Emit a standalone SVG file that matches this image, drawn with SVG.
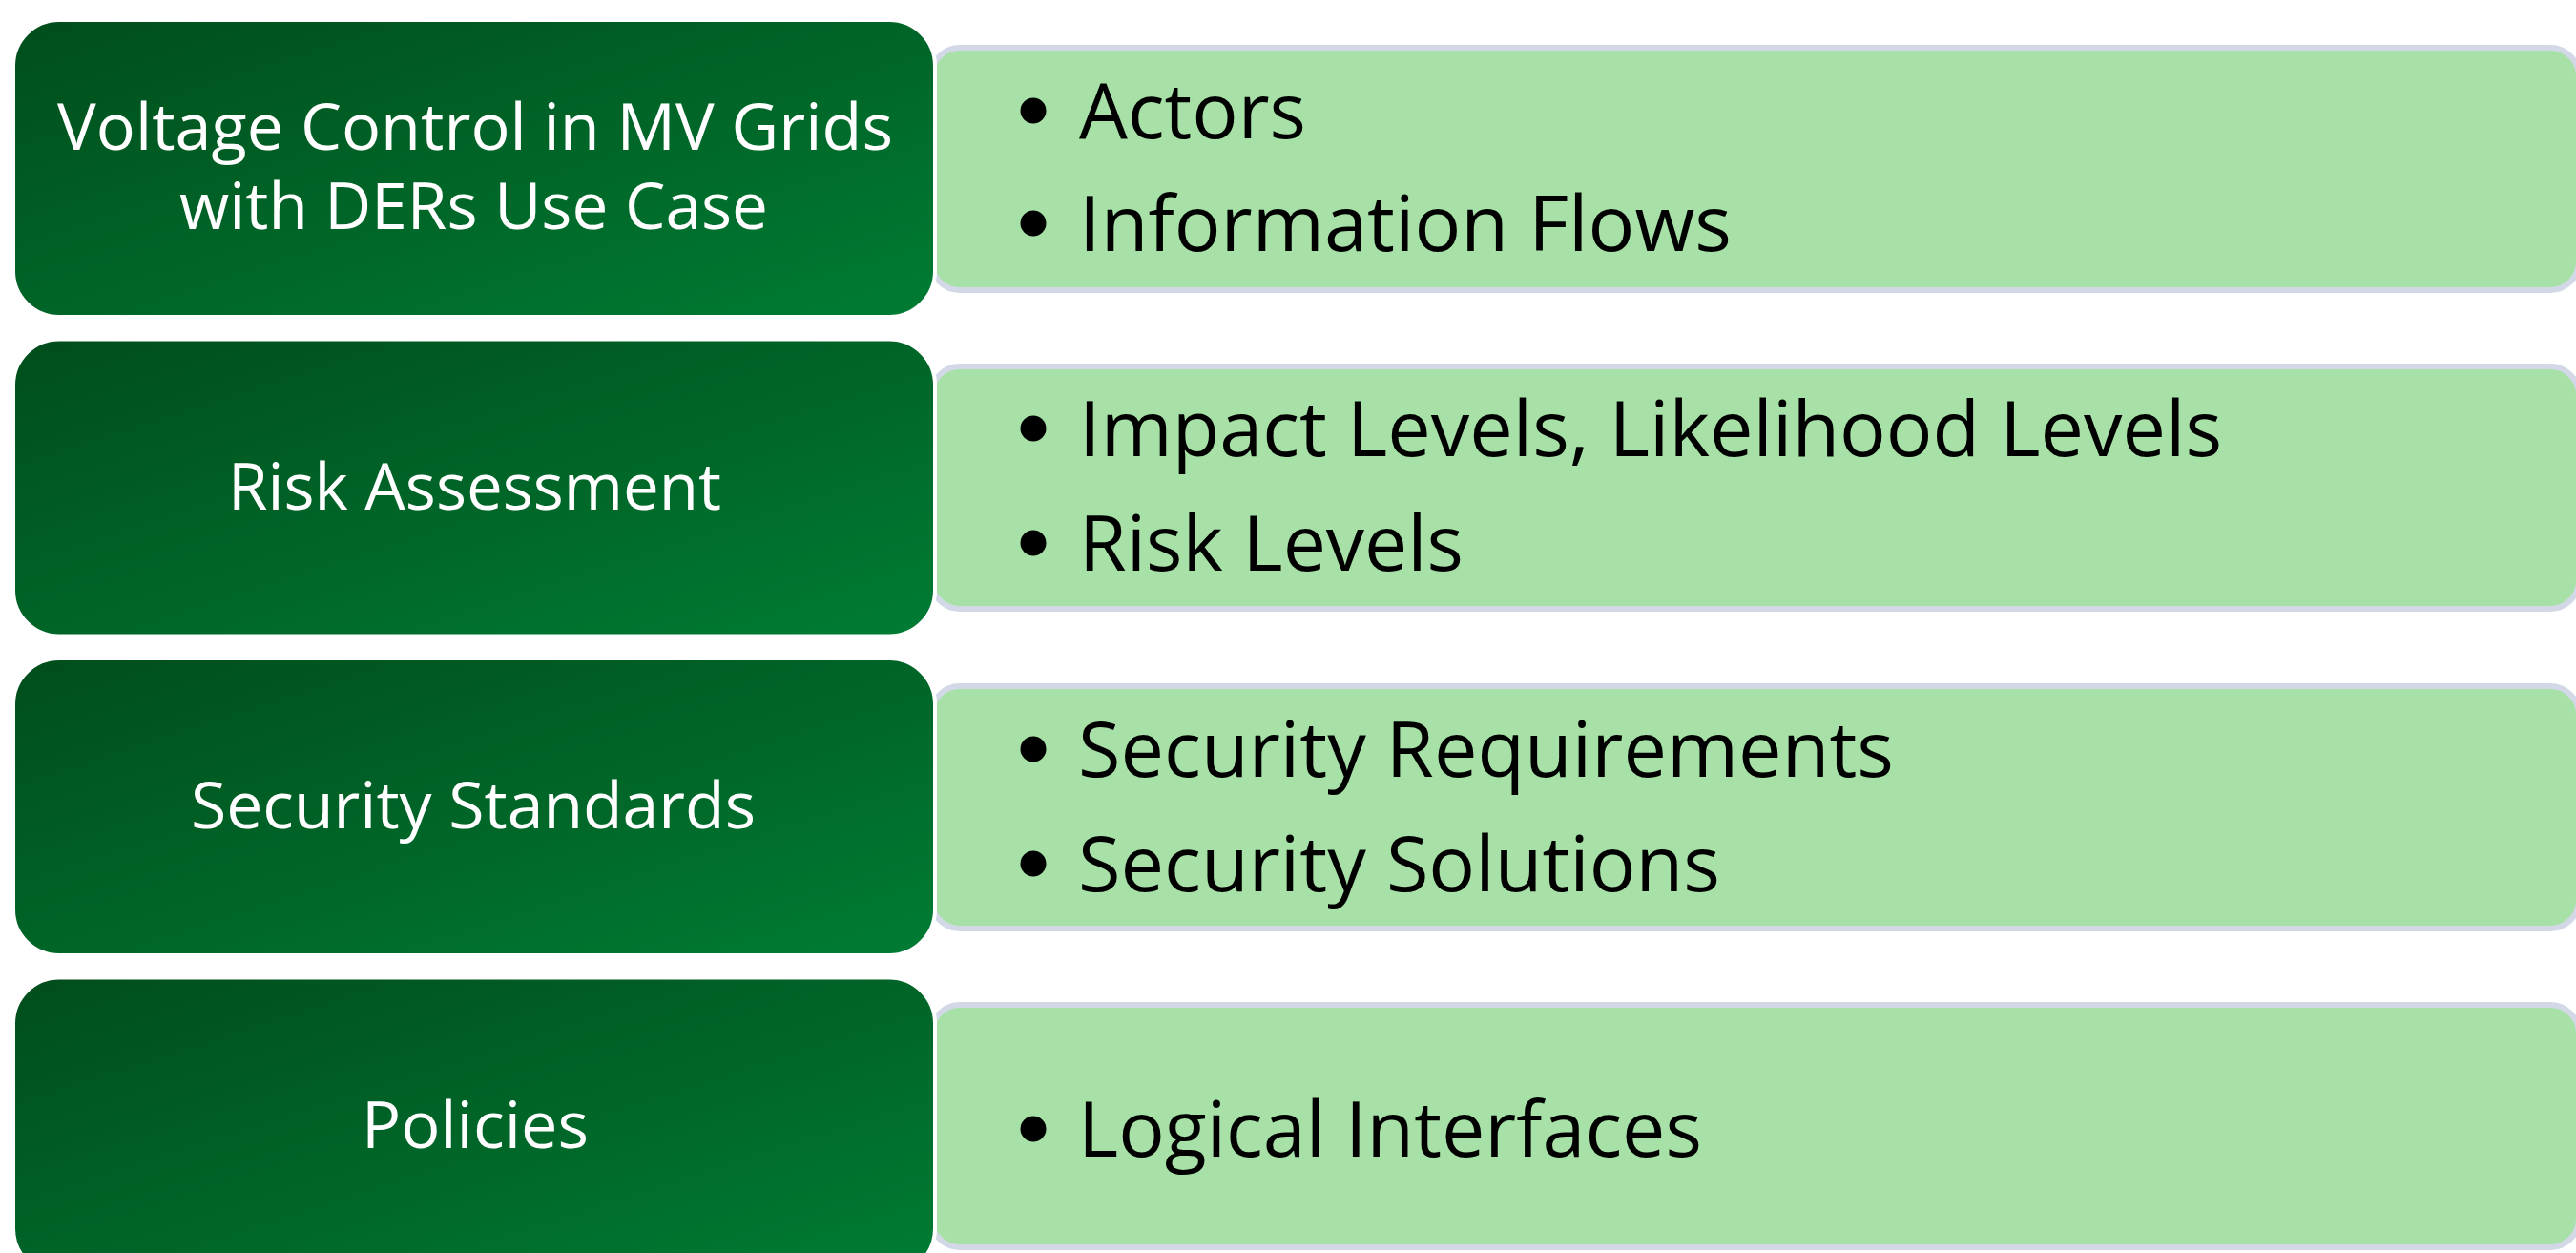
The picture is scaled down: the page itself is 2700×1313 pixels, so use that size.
<svg xmlns="http://www.w3.org/2000/svg" width="2700" height="1313" viewBox="0 0 2700 1313">
  <defs>
    <linearGradient id="stageFill" x1="0" y1="0" x2="1" y2="1">
      <stop offset="0" stop-color="#004d1b"/>
      <stop offset="1" stop-color="#007c34"/>
    </linearGradient>
    <style>
      .stage { fill: url(#stageFill); stroke: #ffffff; stroke-width: 4; }
      .detail { fill: #a7e1a7; stroke: #d2d8e6; stroke-width: 6; }
      .stage-label { font-family: "Open Sans", "Noto Sans", sans-serif; font-size: 67px; fill: #ffffff; }
      .item { font-family: "Open Sans", "Noto Sans", sans-serif; font-size: 81px; fill: #000000; }
      .dot { fill: #000000; }
    </style>
  </defs>
  <rect width="2700" height="1313" fill="#ffffff"/>

  <!-- Row 1: use case -->
  <g id="details-usecase">
    <rect class="detail" x="976" y="50" width="1727" height="254" rx="30"/>
    <circle class="dot" cx="1083" cy="116" r="13.5"/>
    <text class="item" x="1131" y="145" textLength="238" lengthAdjust="spacingAndGlyphs">Actors</text>
    <circle class="dot" cx="1083" cy="234" r="13.5"/>
    <text class="item" x="1131" y="263" textLength="684" lengthAdjust="spacingAndGlyphs">Information Flows</text>
  </g>
  <g id="stage-usecase">
    <rect class="stage" x="14" y="21" width="966" height="311" rx="48"/>
    <text class="stage-label" x="60" y="157" textLength="876" lengthAdjust="spacingAndGlyphs">Voltage Control in MV Grids</text>
    <text class="stage-label" x="188" y="240" textLength="617" lengthAdjust="spacingAndGlyphs">with DERs Use Case</text>
  </g>

  <!-- Row 2: risk assessment -->
  <g id="details-risk">
    <rect class="detail" x="976" y="384" width="1727" height="254" rx="30"/>
    <circle class="dot" cx="1083" cy="449" r="13.5"/>
    <text class="item" x="1131" y="478" textLength="1198" lengthAdjust="spacingAndGlyphs">Impact Levels, Likelihood Levels</text>
    <circle class="dot" cx="1083" cy="569" r="13.5"/>
    <text class="item" x="1131" y="598" textLength="403" lengthAdjust="spacingAndGlyphs">Risk Levels</text>
  </g>
  <g id="stage-risk">
    <rect class="stage" x="14" y="355.5" width="966" height="311" rx="48"/>
    <text class="stage-label" x="239" y="534" textLength="517" lengthAdjust="spacingAndGlyphs">Risk Assessment</text>
  </g>

  <!-- Row 3: security standards -->
  <g id="details-standards">
    <rect class="detail" x="976" y="719" width="1727" height="254" rx="30"/>
    <circle class="dot" cx="1083" cy="785" r="13.5"/>
    <text class="item" x="1130" y="814" textLength="855" lengthAdjust="spacingAndGlyphs">Security Requirements</text>
    <circle class="dot" cx="1083" cy="905" r="13.5"/>
    <text class="item" x="1130" y="934" textLength="673" lengthAdjust="spacingAndGlyphs">Security Solutions</text>
  </g>
  <g id="stage-standards">
    <rect class="stage" x="14" y="690" width="966" height="311" rx="48"/>
    <text class="stage-label" x="200" y="868" textLength="592" lengthAdjust="spacingAndGlyphs">Security Standards</text>
  </g>

  <!-- Row 4: policies -->
  <g id="details-policies">
    <rect class="detail" x="976" y="1053" width="1727" height="254" rx="30"/>
    <circle class="dot" cx="1083" cy="1183" r="13.5"/>
    <text class="item" x="1130" y="1212" textLength="654" lengthAdjust="spacingAndGlyphs">Logical Interfaces</text>
  </g>
  <g id="stage-policies">
    <rect class="stage" x="14" y="1024.5" width="966" height="311" rx="48"/>
    <text class="stage-label" x="379" y="1203" textLength="238" lengthAdjust="spacingAndGlyphs">Policies</text>
  </g>
</svg>
